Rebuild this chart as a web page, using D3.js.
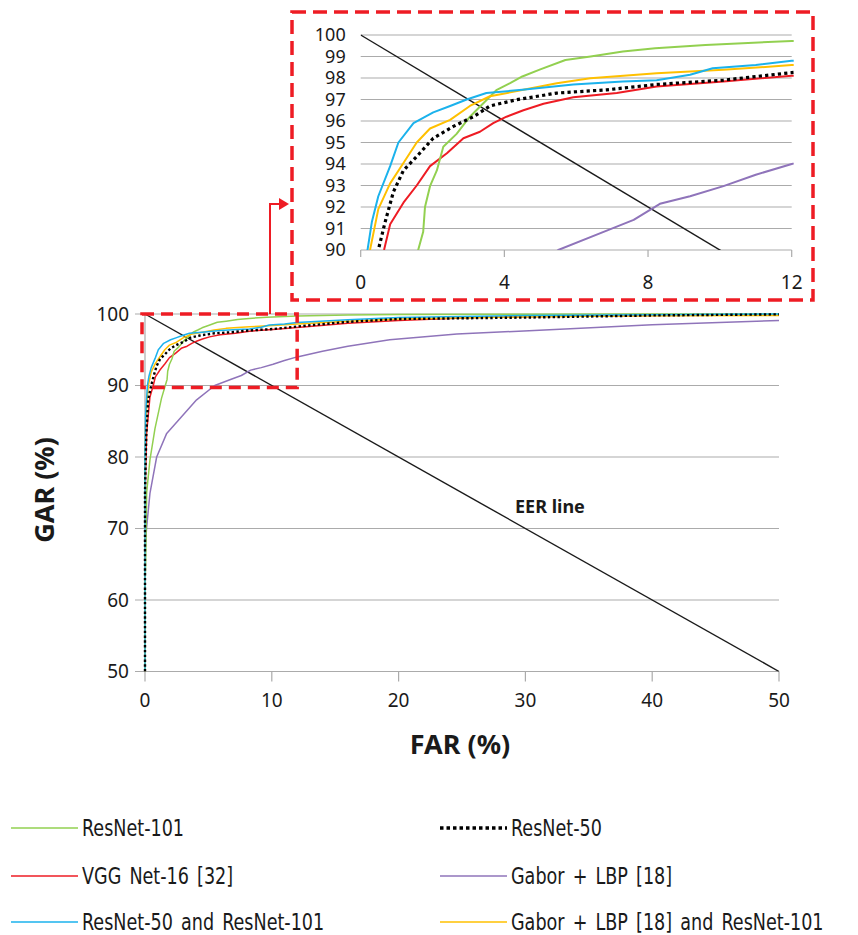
<!DOCTYPE html>
<html>
<head>
<meta charset="utf-8">
<script src="https://cdn.jsdelivr.net/npm/d3@7"></script>
<style>
    body { margin: 0; background: #fff; }
    svg text { font-family: "Noto Sans", "DejaVu Sans", sans-serif; fill: #1a1a1a; }
    .legend-text { font-family: "Liberation Sans Narrow", "DejaVu Sans Condensed", sans-serif !important; }
</style>
</head>
<body>
<div id="chart_container"></div>
<script>
// ROC curves, FAR (%) vs GAR (%)
var seriesNames = ["ResNet-101", "ResNet-50", "VGG Net-16 [32]", "Gabor + LBP [18]",
    "ResNet-50 and ResNet-101", "Gabor + LBP [18] and ResNet-101"];

var resnet101Far = [0, 0, 0.05, 0.13, 0.39, 0.79, 1.3, 1.6, 1.74, 1.79, 1.93, 2.12, 2.3, 2.67, 3.04, 3.4, 3.79, 4.16, 4.5, 5.0, 5.7, 6.4, 7.3, 8.2, 9.6, 12, 16, 20, 30, 40, 50];
var resnet101Gar = [50, 62, 65, 75, 79.6, 84, 88.2, 90, 90.85, 92, 92.97, 93.7, 94.8, 95.4, 96.2, 96.8, 97.45, 97.76, 98.07, 98.4, 98.84, 99.0, 99.23, 99.38, 99.54, 99.72, 99.85, 99.92, 99.97, 100, 100];

var resnet50Far = [0, 0, 0.1, 0.25, 0.49, 0.68, 0.91, 1.19, 1.56, 2.02, 2.58, 3.14, 3.6, 4.34, 5.46, 6.85, 8.24, 10.1, 12, 16, 20, 30, 40, 50];
var resnet50Gar = [50, 75, 83, 88, 90, 91.3, 92.7, 93.7, 94.35, 95.2, 95.75, 96.2, 96.7, 96.99, 97.3, 97.45, 97.7, 97.9, 98.25, 98.9, 99.3, 99.5, 99.8, 99.95];

var vggFar = [0, 0, 0.05, 0.13, 0.39, 0.65, 0.82, 1.19, 1.56, 1.93, 2.4, 2.86, 3.32, 3.69, 4.06, 4.53, 5.09, 5.92, 7.13, 8.24, 10.1, 12, 16, 20, 26, 30, 40, 50];
var vggGar = [50, 70, 78, 83.4, 88.4, 90, 91.2, 92.2, 93, 93.9, 94.5, 95.2, 95.5, 95.9, 96.2, 96.5, 96.8, 97.1, 97.3, 97.6, 97.84, 98.1, 98.7, 99.1, 99.5, 99.6, 99.8, 99.85];

var gaborFar = [0, 0, 0.13, 0.39, 0.92, 1.71, 4.07, 5.5, 6.85, 7.6, 8.33, 9.17, 10.1, 11.0, 12, 14, 16, 19.3, 24.6, 30.7, 40, 50];
var gaborGar = [50, 67, 70.2, 74.9, 80.0, 83.3, 88.0, 90, 90.9, 91.4, 92.15, 92.5, 92.97, 93.5, 94.0, 94.8, 95.5, 96.4, 97.2, 97.7, 98.5, 99.1];

var fusionFar = [0, 0, 0.05, 0.19, 0.31, 0.49, 0.82, 1.05, 1.47, 2.02, 2.49, 2.95, 3.5, 4.5, 5.92, 7.3, 8.24, 9.17, 9.8, 11.0, 12, 16, 20, 30, 40, 50];
var fusionGar = [50, 80, 86, 90, 91.3, 92.5, 93.9, 95.0, 95.9, 96.4, 96.7, 97.0, 97.3, 97.45, 97.7, 97.84, 97.9, 98.15, 98.45, 98.6, 98.8, 99.2, 99.5, 99.8, 99.9, 100];

var gaborResFar = [0, 0, 0.05, 0.26, 0.49, 0.82, 1.19, 1.56, 1.93, 2.49, 3.04, 3.6, 4.53, 5.46, 6.39, 8.24, 10.1, 12, 16, 20, 30, 40, 50];
var gaborResGar = [50, 78, 85, 90, 91.9, 93.1, 94.05, 95.0, 95.65, 96.05, 96.7, 97.15, 97.45, 97.76, 97.99, 98.22, 98.38, 98.6, 99.0, 99.3, 99.6, 99.75, 99.8];

var eerFar = [0, 50];
var eerGar = [100, 50];

var mainXTicks = [0, 10, 20, 30, 40, 50];
var mainYTicks = [50, 60, 70, 80, 90, 100];
var insetXTicks = [0, 4, 8, 12];
var insetYTicks = [90, 91, 92, 93, 94, 95, 96, 97, 98, 99, 100];

function RocChart() {};

RocChart.prototype = {
    setup: function() {
        this.width = 858;
        this.height = 935;
        this.svg = d3.select("#chart_container").append("svg")
            .attr("width", this.width)
            .attr("height", this.height);

        // one entry per curve, in legend order
        this.series = [
            {name: seriesNames[0], far: resnet101Far, gar: resnet101Gar, color: "#92D050"},
            {name: seriesNames[1], far: resnet50Far, gar: resnet50Gar, color: "#000000", dotted: true},
            {name: seriesNames[2], far: vggFar, gar: vggGar, color: "#EE1C24"},
            {name: seriesNames[3], far: gaborFar, gar: gaborGar, color: "#8F74BA"},
            {name: seriesNames[4], far: fusionFar, gar: fusionGar, color: "#1BB2EC"},
            {name: seriesNames[5], far: gaborResFar, gar: gaborResGar, color: "#FFC000"}
        ];
        // draw order: dotted line on top
        this.drawOrder = [3, 2, 0, 5, 4, 1];

        this.drawMain();
        this.drawInset();
        this.drawCallout();
        this.drawLegend();
    },

    drawCurves: function(g, x, y, clipId, dotWidth, lineWidth) {
        var self = this;
        var line = d3.line()
            .x(function(d) { return x(d[0]); })
            .y(function(d) { return y(d[1]); });

        var cg = g.append("g").attr("clip-path", "url(#" + clipId + ")");

        // EER line
        cg.append("path")
            .datum(d3.zip(eerFar, eerGar))
            .attr("d", line)
            .attr("fill", "none")
            .attr("stroke", "#1a1a1a")
            .attr("stroke-width", 1.4);

        self.drawOrder.forEach(function(i) {
            var s = self.series[i];
            var p = cg.append("path")
                .datum(d3.zip(s.far, s.gar))
                .attr("d", line)
                .attr("fill", "none")
                .attr("stroke", s.color)
                .attr("stroke-linejoin", "round");
            if (s.dotted) {
                p.attr("stroke-width", dotWidth).attr("stroke-dasharray", dotWidth + "," + dotWidth);
            } else {
                p.attr("stroke-width", lineWidth);
            }
        });
    },

    drawMain: function() {
        var svg = this.svg;
        var x = d3.scaleLinear().domain([0, 50]).range([145, 779]);
        var y = d3.scaleLinear().domain([50, 100]).range([671.5, 314]);
        this.mainX = x;
        this.mainY = y;

        svg.append("clipPath").attr("id", "main-clip")
            .append("rect")
            .attr("x", x(0) - 2).attr("y", y(100) - 2)
            .attr("width", x(50) - x(0) + 4).attr("height", y(50) - y(100) + 2);

        var g = svg.append("g");

        // horizontal gridlines + left ticks
        g.selectAll(".grid").data(mainYTicks).enter().append("line")
            .attr("x1", x(0) - 10).attr("x2", x(50))
            .attr("y1", function(d) { return y(d); })
            .attr("y2", function(d) { return y(d); })
            .attr("stroke", "#ababab").attr("stroke-width", 1.2);

        // y axis line
        g.append("line")
            .attr("x1", x(0)).attr("x2", x(0))
            .attr("y1", y(100)).attr("y2", y(50))
            .attr("stroke", "#ababab").attr("stroke-width", 1.2);

        // x ticks
        g.selectAll(".xtick").data(mainXTicks).enter().append("line")
            .attr("x1", function(d) { return x(d); })
            .attr("x2", function(d) { return x(d); })
            .attr("y1", y(50)).attr("y2", y(50) + 10)
            .attr("stroke", "#ababab").attr("stroke-width", 1.2);

        g.selectAll(".ylab").data(mainYTicks).enter().append("text")
            .attr("x", x(0) - 16)
            .attr("y", function(d) { return y(d); })
            .attr("dy", "0.35em")
            .attr("text-anchor", "end")
            .style("font-size", "19px")
            .text(function(d) { return d; });

        g.selectAll(".xlab").data(mainXTicks).enter().append("text")
            .attr("x", function(d) { return x(d); })
            .attr("y", 700)
            .attr("dy", "0.35em")
            .attr("text-anchor", "middle")
            .style("font-size", "19px")
            .text(function(d) { return d; });

        this.drawCurves(g, x, y, "main-clip", 2.4, 1.5);

        // axis titles
        g.append("text")
            .attr("transform", "translate(45,490) rotate(-90)")
            .attr("text-anchor", "middle")
            .attr("dy", "0.35em")
            .style("font-size", "27px").style("font-weight", "bold")
            .text("GAR (%)");

        g.append("text")
            .attr("x", 460).attr("y", 745)
            .attr("dy", "0.35em")
            .attr("text-anchor", "middle")
            .style("font-size", "27px").style("font-weight", "bold")
            .text("FAR (%)");

        g.append("text")
            .attr("x", 515).attr("y", 507)
            .attr("dy", "0.35em")
            .style("font-size", "18px").style("font-weight", "bold")
            .text("EER line");
    },

    drawInset: function() {
        var svg = this.svg;
        var x = d3.scaleLinear().domain([0, 12]).range([360.7, 791.7]);
        var y = d3.scaleLinear().domain([90, 100]).range([250, 35]);

        svg.append("clipPath").attr("id", "inset-clip")
            .append("rect")
            .attr("x", x(0)).attr("y", y(100) - 2)
            .attr("width", x(12) - x(0) + 2).attr("height", y(90) - y(100) + 2);

        var g = svg.append("g");

        g.selectAll(".grid").data(insetYTicks).enter().append("line")
            .attr("x1", x(0)).attr("x2", x(12))
            .attr("y1", function(d) { return y(d); })
            .attr("y2", function(d) { return y(d); })
            .attr("stroke", "#ababab").attr("stroke-width", 1.2);

        g.selectAll(".xtick").data(insetXTicks).enter().append("line")
            .attr("x1", function(d) { return x(d); })
            .attr("x2", function(d) { return x(d); })
            .attr("y1", y(90)).attr("y2", y(90) + 7)
            .attr("stroke", "#ababab").attr("stroke-width", 1.2);

        g.selectAll(".ylab").data(insetYTicks).enter().append("text")
            .attr("x", x(0) - 15)
            .attr("y", function(d) { return y(d); })
            .attr("dy", "0.35em")
            .attr("text-anchor", "end")
            .style("font-size", "18px")
            .text(function(d) { return d; });

        g.selectAll(".xlab").data(insetXTicks).enter().append("text")
            .attr("x", function(d) { return x(d); })
            .attr("y", 282)
            .attr("dy", "0.35em")
            .attr("text-anchor", "middle")
            .style("font-size", "19px")
            .text(function(d) { return d; });

        this.drawCurves(g, x, y, "inset-clip", 3.2, 2);

        // red dashed frame round the inset
        g.append("rect")
            .attr("x", 292).attr("y", 12)
            .attr("width", 521).attr("height", 288)
            .attr("fill", "none")
            .attr("stroke", "#EE1C24").attr("stroke-width", 3.5)
            .attr("stroke-dasharray", "14,7");
    },

    drawCallout: function() {
        var svg = this.svg, x = this.mainX, y = this.mainY;

        // zoomed region in main plot
        svg.append("rect")
            .attr("x", x(0) - 3).attr("y", y(100))
            .attr("width", x(12) - x(0) + 3).attr("height", y(90) - y(100) + 2)
            .attr("fill", "none")
            .attr("stroke", "#EE1C24").attr("stroke-width", 3.5)
            .attr("stroke-dasharray", "12,7");

        // elbow arrow up to the inset
        svg.append("path")
            .attr("d", "M270," + y(100) + " L270,204 L280,204")
            .attr("fill", "none")
            .attr("stroke", "#EE1C24").attr("stroke-width", 2);
        svg.append("path")
            .attr("d", "M279,198 L289,204 L279,210 Z")
            .attr("fill", "#EE1C24");
    },

    drawLegend: function() {
        var self = this;
        var rowY = [828, 876, 922];
        var colX = [11, 440];

        var items = self.series.map(function(s, i) {
            return {s: s, col: i % 2, row: Math.floor(i / 2)};
        });

        var lg = self.svg.append("g");
        var item = lg.selectAll(".item").data(items).enter().append("g")
            .attr("transform", function(d) { return "translate(" + colX[d.col] + "," + rowY[d.row] + ")"; });

        item.append("line")
            .attr("x1", 0).attr("x2", 67)
            .attr("stroke", function(d) { return d.s.color; })
            .attr("stroke-width", function(d) { return d.s.dotted ? 3.5 : 1.6; })
            .attr("stroke-dasharray", function(d) { return d.s.dotted ? "3.5,3" : null; });

        // condensed look: squeeze the text horizontally
        item.append("text")
            .attr("class", "legend-text")
            .attr("transform", "translate(71,0) scale(0.85,1)")
            .attr("dy", "0.35em")
            .style("font-size", "23px")
            .style("word-spacing", "3px")
            .text(function(d) { return d.s.name; });
    }
};

var chart = new RocChart();
chart.setup();
</script>
</body>
</html>
